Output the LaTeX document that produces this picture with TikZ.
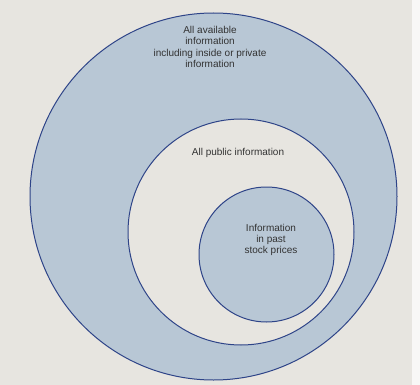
\documentclass[tikz,border=0pt]{standalone}
\usepackage{fontspec}
\setmainfont{Liberation Sans}
\definecolor{bg}{HTML}{E7E5E0}
\definecolor{fillb}{HTML}{B8C7D5}
\definecolor{edge}{HTML}{2E4488}
\tikzset{
  ring/.style={draw=edge, line width=1pt},
  lbl/.style={align=center, font=\fontsize{10}{11.3}\selectfont, text=black!80, inner sep=0pt}
}
\begin{document}
\begin{tikzpicture}[x=1pt,y=-1pt]
\useasboundingbox (0,0) rectangle (420,385);
\fill[bg] (0,0) rectangle (420,385);
\fill[white!70!bg] (412,0) rectangle (420,385);
\node[ring, fill=fillb, circle, minimum size=367pt, inner sep=0pt] (outer) at (213.5,196.5) {};
\node[ring, fill=bg, circle, minimum size=226pt, inner sep=0pt] (public) at (241,232) {};
\node[ring, fill=fillb, circle, minimum size=135pt, inner sep=0pt] (past) at (266.5,254.5) {};
\node[lbl] (t1) at (210,47) {All available\\information\\including inside or private\\information};
\node[lbl] (t2) at (238,153) {All public information};
\node[lbl] (t3) at (271,240) {Information\\in past\\stock prices};
\end{tikzpicture}
\end{document}
